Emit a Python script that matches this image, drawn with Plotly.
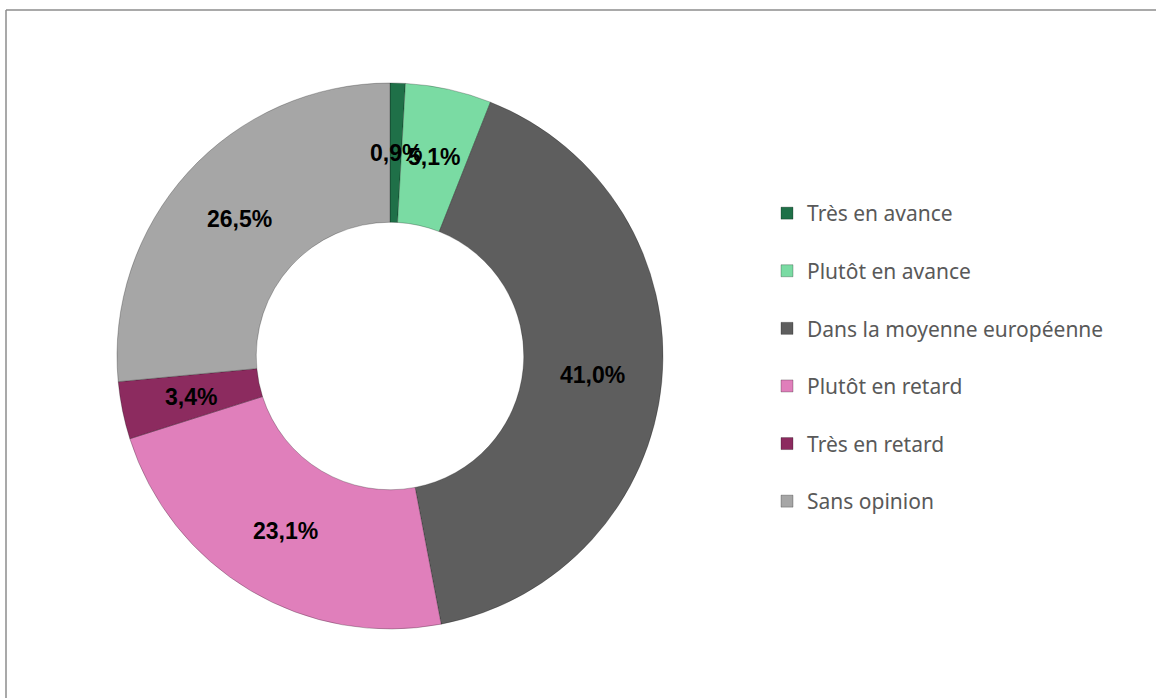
import math
import plotly.graph_objects as go

labels = ['Très en avance', 'Plutôt en avance', 'Dans la moyenne européenne',
          'Plutôt en retard', 'Très en retard', 'Sans opinion']
values = [0.9, 5.1, 41.0, 23.1, 3.4, 26.5]
colors = ['#1f7048', '#7adba3', '#5e5e5e', '#e07fbb', '#8c2b5f', '#a6a6a6']

W, H = 1156, 698

# pie area in pixels (center 390,356 ; outer radius 273)
cx, cy, r = 390, 356, 273
hole = 0.49

text = [('%.1f%%' % v).replace('.', ',') for v in values]
# trailing blank line gives the legend its wide row spacing
legend_labels = [l + '<br> ' for l in labels]

fig = go.Figure(go.Pie(
    labels=legend_labels,
    values=values,
    textinfo='none',
    hole=hole,
    sort=False,
    direction='clockwise',
    rotation=0,
    marker=dict(colors=colors, line=dict(color='rgba(0,0,0,0.25)', width=1)),
    customdata=labels,
    text=text,
    hovertemplate='%{customdata}: %{text}<extra></extra>',
    domain=dict(x=[(cx - r) / W, (cx + r) / W],
                y=[(H - cy - r) / H, (H - cy + r) / H]),
))

# data labels in the middle of the ring, at each slice's mid angle
total = sum(values)
rm = r * (1 + hole) / 2
annotations = []
cum = 0
for v, t in zip(values, text):
    ang = 2 * math.pi * (cum + v / 2) / total
    cum += v
    xp = cx + rm * math.sin(ang)
    yp = cy - rm * math.cos(ang)
    annotations.append(dict(
        x=xp / W, y=1 - yp / H, xref='paper', yref='paper',
        text=t, showarrow=False, xanchor='center', yanchor='middle',
        font=dict(family='Liberation Sans, Arial, sans-serif', size=23,
                  color='black', weight='bold'),
    ))

fig.update_layout(
    width=W, height=H,
    margin=dict(l=0, r=0, t=0, b=0),
    paper_bgcolor='white',
    plot_bgcolor='white',
    annotations=annotations,
    legend=dict(
        x=767 / W, y=1 - 193 / H, xanchor='left', yanchor='top',
        valign='top',
        font=dict(family='Noto Sans, Liberation Sans, sans-serif', size=21, color='#595959'),
        bgcolor='rgba(0,0,0,0)',
        itemwidth=30,
    ),
    shapes=[
        dict(type='line', xref='paper', yref='paper', x0=6 / W, x1=1, y0=1 - 10 / H, y1=1 - 10 / H,
             line=dict(color='#8c8c8c', width=1.5)),
        dict(type='line', xref='paper', yref='paper', x0=6 / W, x1=6 / W, y0=0, y1=1 - 10 / H,
             line=dict(color='#8c8c8c', width=1.5)),
    ],
)

fig.write_html('out.html', config={'displayModeBar': False},
               post_script="document.body.style.margin='0';document.body.style.overflow='hidden';")
